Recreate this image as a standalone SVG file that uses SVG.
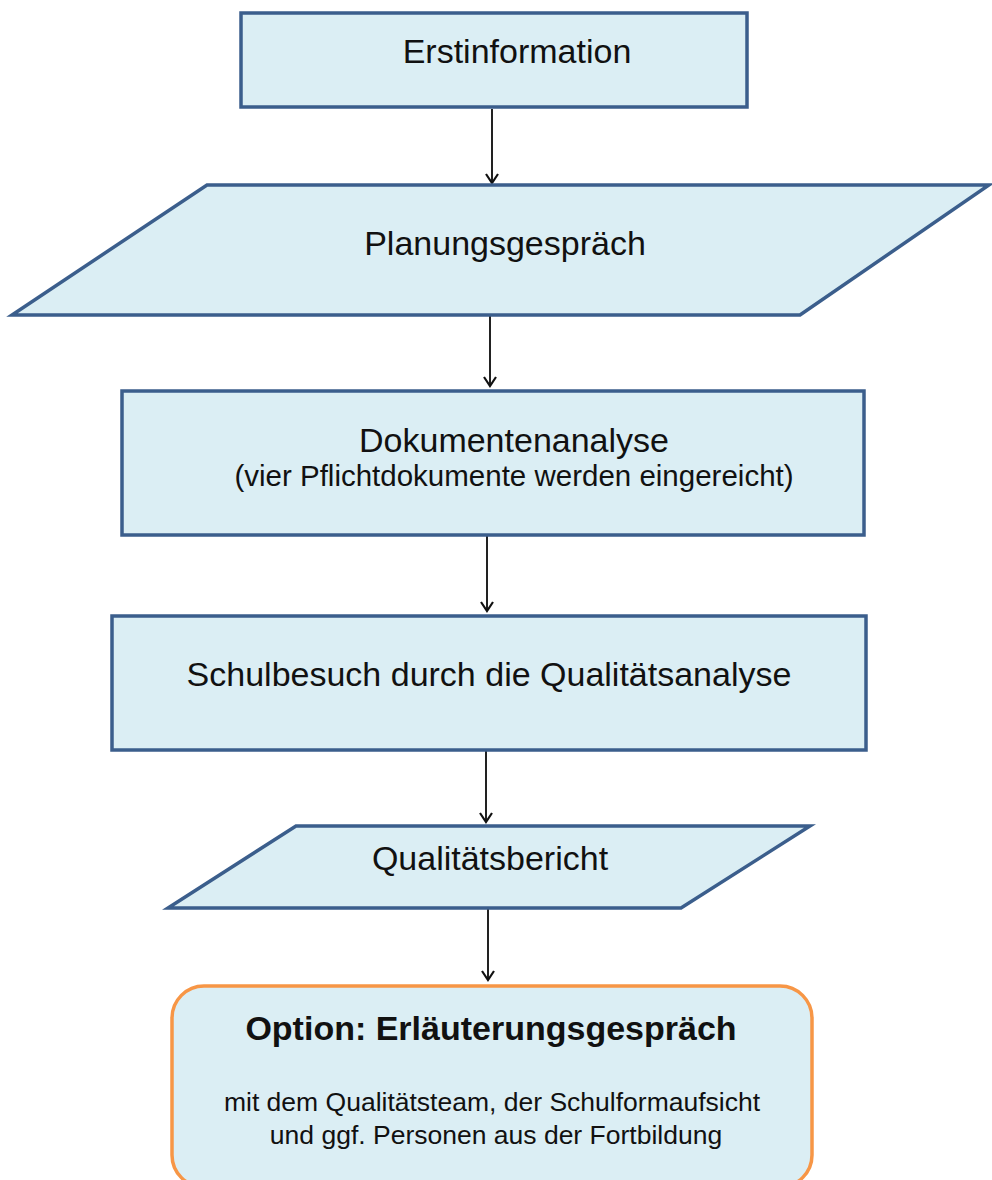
<svg xmlns="http://www.w3.org/2000/svg" width="992" height="1180" viewBox="0 0 992 1180">
  <defs>
    <!-- open chevron arrowhead, drawn along +x so orient="auto" points it down the line -->
    <marker id="arrow" markerWidth="14" markerHeight="14" refX="12" refY="7" orient="auto" markerUnits="userSpaceOnUse" viewBox="0 0 14 14">
      <path d="M3,1 L12,7 L3,13" fill="none" stroke="#111" stroke-width="2.2"/>
    </marker>
    <style>
      .box { fill: #dbeef4; stroke: #3b5e8c; stroke-width: 3.5; }
      .opt { fill: #dbeef4; stroke: #f79646; stroke-width: 3.5; }
      .lbl { font-family: "Liberation Sans", Arial, sans-serif; fill: #111; text-anchor: middle; }
      .main { font-size: 34px; }
      .sub { font-size: 29.5px; }
      .small { font-size: 26.5px; }
      .bold { font-size: 34px; font-weight: bold; }
      .edge { fill: none; stroke: #222; stroke-width: 2; marker-end: url(#arrow); }
    </style>
  </defs>
  <rect width="992" height="1180" fill="#ffffff"/>

  <g id="connectors">
    <line class="edge" x1="492" y1="109" x2="492" y2="183"/>
    <line class="edge" x1="490" y1="316" x2="490" y2="386"/>
    <line class="edge" x1="487" y1="536" x2="487" y2="611"/>
    <line class="edge" x1="486" y1="751" x2="486" y2="822"/>
    <line class="edge" x1="488" y1="909" x2="488" y2="980"/>
  </g>

  <g id="erstinformation">
    <rect class="box" x="241" y="13" width="506" height="94"/>
    <text class="lbl main" x="517" y="63">Erstinformation</text>
  </g>

  <g id="planungsgespraech">
    <polygon class="box" points="207,185 989,185 800,315 12,315"/>
    <text class="lbl main" x="505" y="255">Planungsgespräch</text>
  </g>

  <g id="dokumentenanalyse">
    <rect class="box" x="122" y="391" width="742" height="144"/>
    <text class="lbl main" x="514" y="452">Dokumentenanalyse</text>
    <text class="lbl sub" x="514" y="486">(vier Pflichtdokumente werden eingereicht)</text>
  </g>

  <g id="schulbesuch">
    <rect class="box" x="112" y="616" width="754" height="134"/>
    <text class="lbl main" x="489" y="686">Schulbesuch durch die Qualitätsanalyse</text>
  </g>

  <g id="qualitaetsbericht">
    <polygon class="box" points="296,826 810,826 681,908 168,908"/>
    <text class="lbl main" x="490" y="870">Qualitätsbericht</text>
  </g>

  <g id="erlaeuterungsgespraech">
    <rect class="opt" x="172" y="986" width="640" height="201" rx="32" ry="32"/>
    <text class="lbl bold" x="491" y="1040">Option: Erläuterungsgespräch</text>
    <text class="lbl small" x="492" y="1111">mit dem Qualitätsteam, der Schulformaufsicht</text>
    <text class="lbl small" x="496" y="1144">und ggf. Personen aus der Fortbildung</text>
  </g>
</svg>
